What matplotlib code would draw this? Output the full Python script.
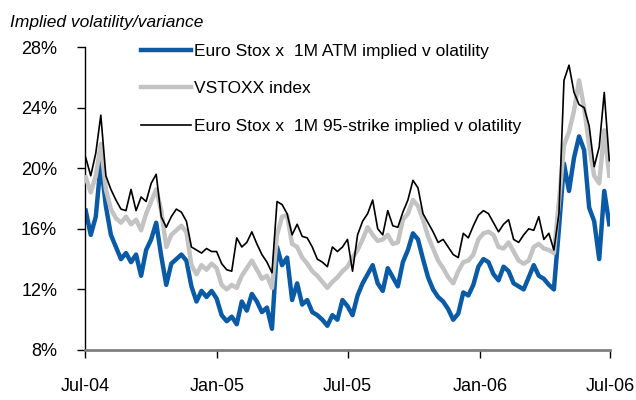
import numpy as np
import pandas as pd
import matplotlib
matplotlib.use("Agg")
import matplotlib.pyplot as plt
import matplotlib.dates as mdates
from matplotlib.ticker import FuncFormatter

plt.rcParams['font.family'] = ['Liberation Sans', 'DejaVu Sans']

# weekly observations, Jul-04 to Jun-06 (values in %)
dates = pd.date_range('2004-07-02', periods=105, freq='W-FRI')

atm_vol = [17.2, 15.6, 16.8, 20.4, 17.5, 15.6, 14.8, 14.0, 14.4, 13.8,
           14.3, 12.9, 14.6, 15.3, 16.4, 14.2, 12.3, 13.7, 14.0, 14.3,
           13.9, 12.2, 11.2, 11.9, 11.5, 11.9, 11.4, 10.3, 9.9, 10.2,
           9.7, 11.2, 10.6, 11.7, 11.2, 10.5, 10.8, 9.4, 14.8, 13.6,
           14.1, 11.3, 12.4, 11.0, 11.3, 10.5, 10.3, 10.0, 9.6, 10.3,
           10.0, 11.3, 10.9, 10.3, 11.6, 12.4, 13.0, 13.6, 12.4, 11.9,
           13.4, 12.8, 12.2, 13.8, 14.6, 15.7, 15.3, 14.0, 12.8, 12.0,
           11.5, 11.2, 10.7, 10.0, 10.4, 11.8, 11.6, 12.3, 13.5, 14.0,
           13.8, 13.0, 12.6, 13.5, 13.2, 12.4, 12.2, 12.0, 12.8, 13.6,
           12.9, 12.7, 12.3, 12.0, 16.0, 20.3, 18.5, 20.7, 22.1, 21.2,
           17.4, 16.5, 14.0, 18.5, 16.3]

vstoxx = [19.4, 18.4, 19.5, 21.6, 18.6, 17.3, 16.7, 16.4, 16.8, 16.3,
          16.6, 15.9, 17.0, 17.8, 18.6, 17.2, 14.8, 15.6, 15.9, 16.2,
          15.8, 13.6, 13.0, 13.6, 13.3, 13.7, 13.4, 12.3, 12.0, 12.3,
          12.1, 12.9, 13.4, 13.9, 13.3, 12.7, 12.9, 12.1, 15.6, 16.8,
          16.9, 15.0, 14.8, 14.1, 13.7, 13.2, 12.9, 12.5, 12.1, 12.5,
          12.8, 13.2, 13.5, 14.1, 14.6, 15.3, 16.1, 15.6, 15.2, 15.3,
          15.6, 15.0, 15.1, 16.6, 17.0, 17.9, 17.5, 16.6, 15.5, 14.7,
          13.9, 13.4, 12.8, 12.4, 13.2, 13.8, 13.9, 14.3, 15.3, 15.7,
          15.8, 15.6, 14.8, 14.7, 15.1, 14.5, 13.9, 13.7, 13.9, 14.8,
          15.0, 14.7, 14.6, 14.4, 17.8, 21.5, 22.4, 23.8, 25.8, 24.0,
          21.5, 19.5, 19.0, 22.5, 19.5]

strike95_vol = [20.7, 19.5, 21.0, 23.5, 19.5, 18.6, 17.9, 17.3, 17.2, 18.6,
                17.2, 18.1, 17.8, 19.0, 19.6, 16.8, 16.1, 16.8, 17.3, 17.1,
                16.5, 14.8, 14.6, 14.4, 14.7, 14.5, 14.5, 13.7, 13.3, 13.2,
                15.4, 14.8, 15.1, 15.8, 15.0, 14.3, 13.8, 13.1, 17.8, 17.6,
                17.0, 15.6, 16.3, 15.5, 15.4, 14.8, 14.0, 13.8, 13.5, 14.8,
                14.5, 14.8, 15.3, 13.2, 15.6, 16.5, 17.0, 17.9, 16.0, 15.6,
                17.2, 16.2, 16.1, 17.1, 17.9, 19.2, 18.7, 17.0, 16.4, 15.8,
                15.1, 15.3, 14.8, 14.3, 14.1, 15.7, 15.4, 16.2, 16.9, 17.2,
                17.0, 16.4, 15.8, 16.3, 16.6, 15.3, 15.1, 15.6, 16.0, 15.9,
                16.8, 15.3, 15.7, 14.6, 17.0, 25.8, 26.8, 25.0, 24.2, 24.0,
                22.8, 20.1, 21.4, 25.0, 20.5]

labels = ['Euro Stox x  1M ATM implied v olatility',
          'VSTOXX index',
          'Euro Stox x  1M 95-strike implied v olatility']

fig = plt.figure(figsize=(6.36, 4.0), dpi=100)
ax = fig.add_axes([85 / 636, 1 - 350 / 400, 525 / 636, 303 / 400])

ax.plot(dates, atm_vol, color='#0B5AA5', lw=3.2, label=labels[0], zorder=2)
ax.plot(dates, vstoxx, color='#C3C3C3', lw=3.2, label=labels[1], zorder=3)
ax.plot(dates, strike95_vol, color='black', lw=1.2, label=labels[2], zorder=4)

ax.set_xlim(pd.Timestamp('2004-07-01'), pd.Timestamp('2006-07-01'))
ax.set_ylim(8, 28)
ax.set_yticks([8, 12, 16, 20, 24, 28])
ax.yaxis.set_major_formatter(FuncFormatter(lambda v, p: f'{v:.0f}%'))
ax.set_xticks(pd.to_datetime(['2004-07-01', '2005-01-01', '2005-07-01',
                              '2006-01-01', '2006-07-01']))
ax.xaxis.set_major_formatter(mdates.DateFormatter('%b-%y'))

for s in ['top', 'right']:
    ax.spines[s].set_visible(False)
ax.spines['left'].set_color('black')
ax.spines['left'].set_linewidth(1.0)
ax.spines['bottom'].set_color('#808080')
ax.spines['bottom'].set_linewidth(2.0)
ax.tick_params(axis='both', direction='out', length=6, width=1.0,
               color='black', labelsize=13, pad=14)

ax.legend(loc='upper left', bbox_to_anchor=(0.076, 1.063), frameon=False,
          fontsize=12.5, handlelength=2.9, handletextpad=0.2, labelspacing=1.3)

fig.text(10 / 636, 1 - 27 / 400, 'Implied volatility/variance',
         fontsize=12.5, style='italic', va='baseline')

fig.savefig('out.png', dpi=100)
